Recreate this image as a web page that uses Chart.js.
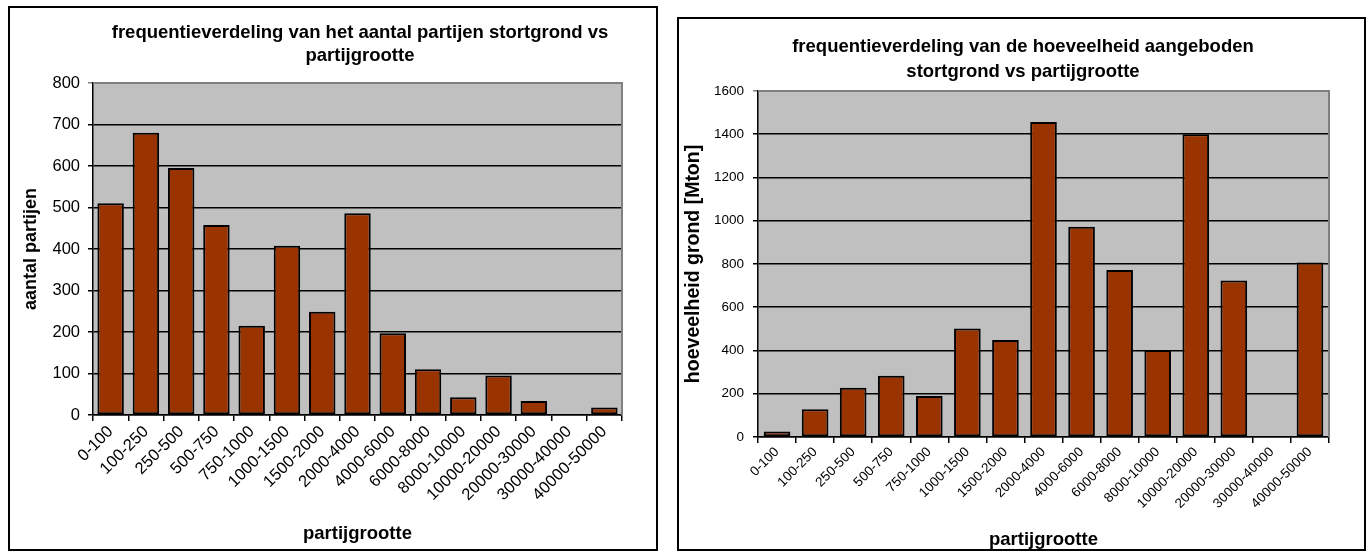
<!DOCTYPE html>
<html>
<head>
<meta charset="utf-8">
<script src="https://cdn.jsdelivr.net/npm/chart.js@4.4.0/dist/chart.umd.min.js"></script>
<style>
  body { margin: 0; background: #fff; width: 1370px; height: 551px; overflow: hidden; position: relative; }
  .box { position: absolute; border: 2px solid #000; box-sizing: border-box; background: #fff; }
  #box1 { left: 8px; top: 6px; width: 650px; height: 545px; }
  #box2 { left: 677px; top: 17px; width: 689px; height: 534px; }
  canvas { display: block; }
</style>
</head>
<body>
<div class="box" id="box1"><canvas id="chart1"></canvas></div>
<div class="box" id="box2"><canvas id="chart2"></canvas></div>
<script>
// partijgrootte klassen (x-as)
const categories = ['0-100', '100-250', '250-500', '500-750', '750-1000', '1000-1500', '1500-2000',
  '2000-4000', '4000-6000', '6000-8000', '8000-10000', '10000-20000', '20000-30000', '30000-40000', '40000-50000'];

// aantal partijen per klasse
const aantalPartijen = [510, 680, 595, 458, 215, 408, 249, 486, 197, 110, 43, 95, 34, 0, 18];

// hoeveelheid grond [Mton] per klasse
const hoeveelheidGrond = [26, 128, 228, 283, 190, 502, 449, 1456, 972, 772, 402, 1400, 724, 0, 807];

// y-as schaal
const yMax1 = 800, yStep1 = 100;
const yMax2 = 1600, yStep2 = 200;

const FONT = '"Liberation Sans", Arial, sans-serif';
const BAR = '#993300';

// grijze plotachtergrond + grijze rand boven/rechts
const plotBg = {
  id: 'plotBg',
  afterLayout(chart) {
    // titel centreren zoals in Excel
    const c = chart.options.plugins.plotBg.titleCenter;
    const t = chart.titleBlock;
    if (t && c) { t.left = c - 320; t.right = c + 320; }
  },
  beforeDraw(chart) {
    const a = chart.chartArea, ctx = chart.ctx;
    ctx.save();
    ctx.fillStyle = '#c0c0c0';
    ctx.fillRect(a.left, a.top, a.right - a.left, a.bottom - a.top);
    ctx.restore();
  },
  afterDatasetsDraw(chart) {
    const a = chart.chartArea, ctx = chart.ctx;
    ctx.save();
    ctx.strokeStyle = '#808080';
    ctx.lineWidth = 2;
    ctx.beginPath();
    ctx.moveTo(a.left, a.top);
    ctx.lineTo(a.right, a.top);
    ctx.lineTo(a.right, a.bottom);
    ctx.stroke();
    ctx.restore();
  }
};

let makeChart = (id, s) => {
  return new Chart(document.getElementById(id), {
    type: 'bar',
    data: {
      labels: categories,
      datasets: [{
        data: s.data,
        backgroundColor: BAR,
        borderColor: '#000',
        borderWidth: 2,
        borderSkipped: false,
        barPercentage: s.barPct,
        categoryPercentage: 1
      }]
    },
    options: {
      responsive: true,
      maintainAspectRatio: false,
      animation: false,
      layout: { padding: { left: 0, right: s.padRight, top: 0, bottom: 0 } },
      plugins: {
        legend: { display: false },
        tooltip: { enabled: false },
        plotBg: { titleCenter: s.titleCenter },
        title: {
          display: true,
          text: s.title,
          color: '#000',
          font: { family: FONT, size: 18.5, weight: 'bold', lineHeight: s.titleLH },
          padding: s.titlePad
        }
      },
      scales: {
        x: {
          afterFit: (scale) => { scale.height = s.xHeight; },
          grid: { offset: true, drawOnChartArea: false, drawTicks: true, tickLength: 6, color: '#000', lineWidth: 1.5 },
          border: { color: '#000', width: 1.5 },
          ticks: {
            autoSkip: false, maxRotation: 45, minRotation: 45, padding: 1,
            color: '#000', font: { family: FONT, size: s.tickSize }
          },
          title: {
            display: true, text: 'partijgrootte', color: '#000',
            font: { family: FONT, size: 18.5, weight: 'bold' }, padding: { top: 0, bottom: s.xTitleBottom }
          }
        },
        y: {
          min: 0, max: s.yMax,
          afterFit: (scale) => { scale.width = s.yWidth; },
          grid: {
            color: (c) => c.tick && c.tick.value === s.yMax ? '#808080' : '#000',
            lineWidth: 1.5, tickLength: 5
          },
          border: { color: '#000', width: 1.5 },
          ticks: {
            stepSize: s.yStep, padding: s.yTickPad, color: '#000',
            font: { family: FONT, size: s.tickSize },
            callback: (v) => String(v)
          },
          title: {
            display: true, text: s.yTitle, color: '#000',
            font: { family: FONT, size: s.yTitleSize, weight: 'bold' }, padding: { top: s.yTitleLeft, bottom: 0 }
          }
        }
      }
    },
    plugins: [plotBg]
  });
}

makeChart('chart1', {
  data: aantalPartijen,
  title: ['frequentieverdeling van het aantal partijen stortgrond vs', 'partijgrootte'],
  yTitle: 'aantal partijen', yTitleSize: 18,
  yMax: yMax1, yStep: yStep1,
  barPct: 0.75, padRight: 34, yWidth: 83, xHeight: 134,
  titleCenter: 350, titleLH: 1.25,
  titlePad: { top: 13, bottom: 15.75 },
  tickSize: 16.5, yTickPad: 8, xTitleBottom: 4, yTitleLeft: 10
});

makeChart('chart2', {
  data: hoeveelheidGrond,
  title: ['frequentieverdeling van de hoeveelheid aangeboden', 'stortgrond vs partijgrootte'],
  yTitle: 'hoeveelheid grond [Mton]', yTitleSize: 19.5,
  yMax: yMax2, yStep: yStep2,
  barPct: 0.7, padRight: 35, yWidth: 79, xHeight: 112,
  titleCenter: 344, titleLH: 1.35,
  titlePad: { top: 15.5, bottom: 6.5 },
  tickSize: 13.5, yTickPad: 9, xTitleBottom: -2, yTitleLeft: 3
});
</script>
</body>
</html>
